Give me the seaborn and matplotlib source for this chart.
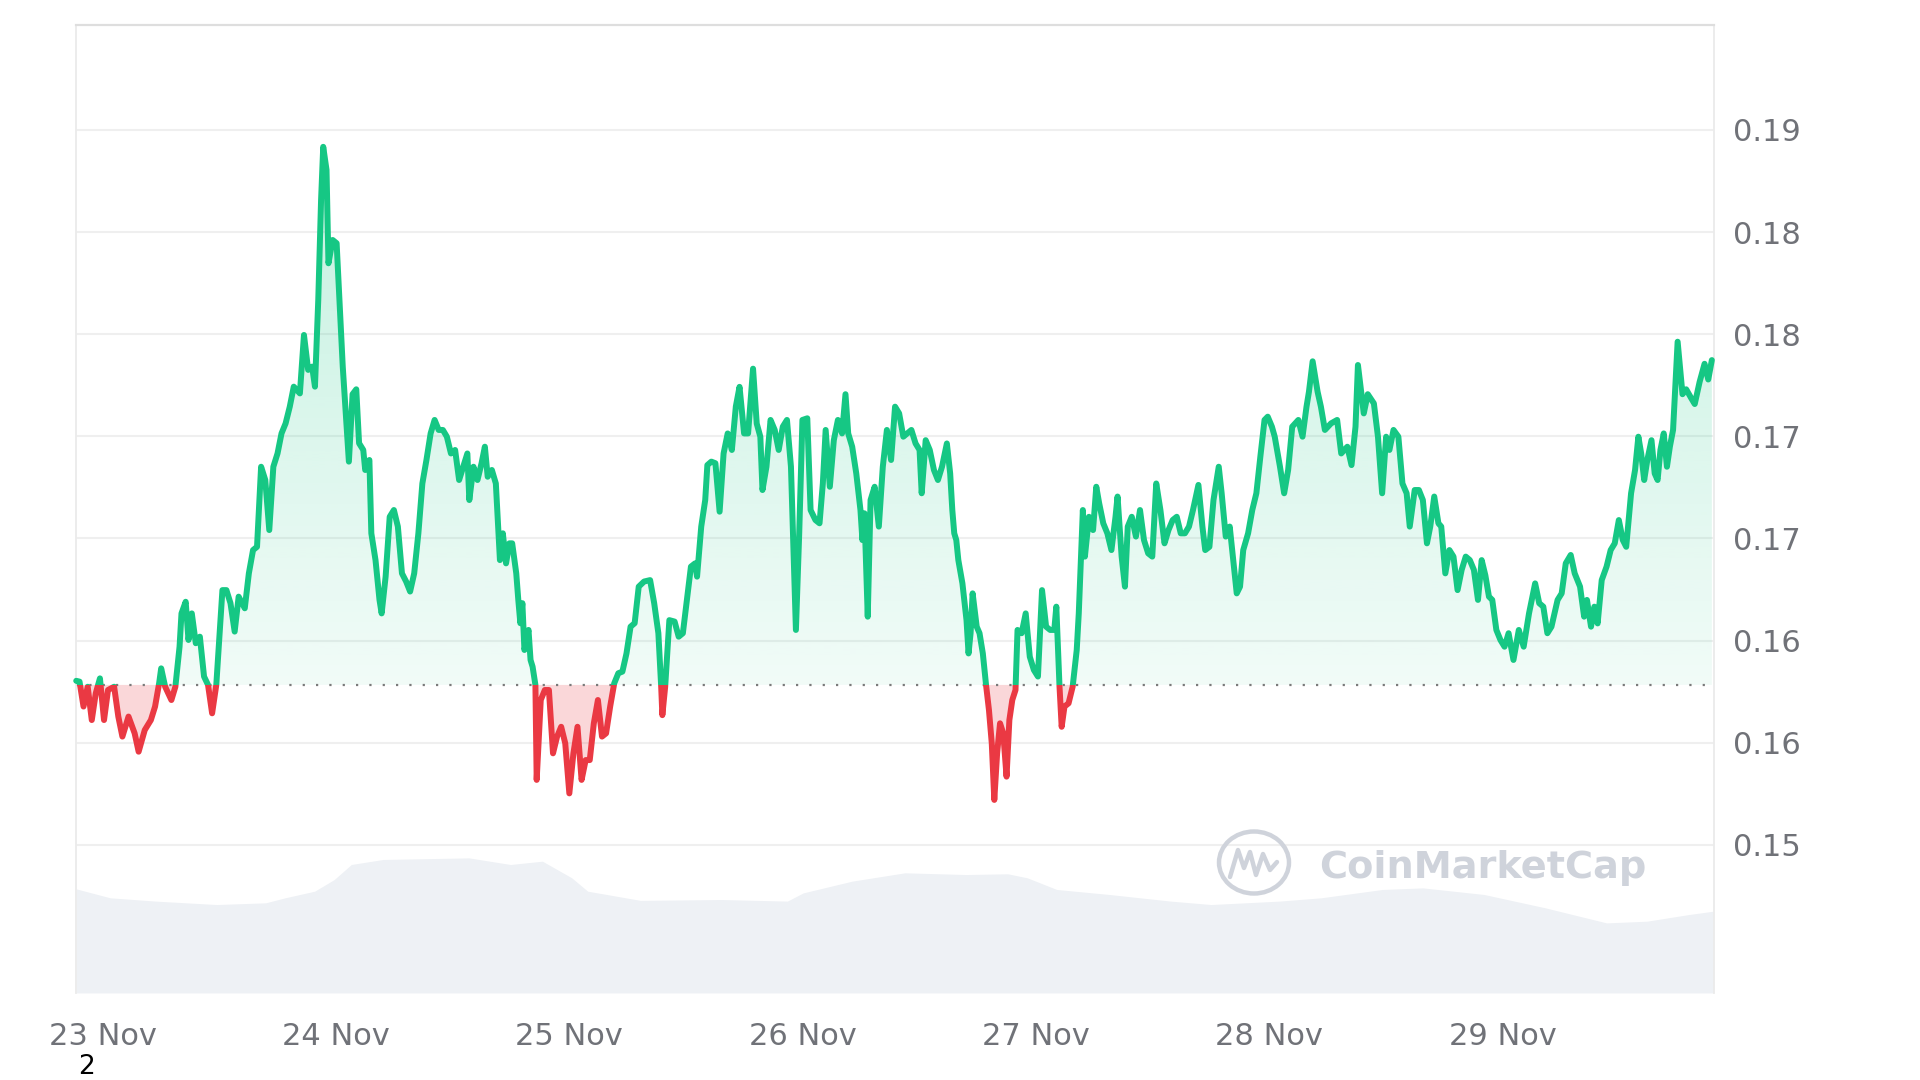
import numpy as np
import pandas as pd
import matplotlib
matplotlib.use("Agg")
import matplotlib.pyplot as plt
import seaborn as sns
from matplotlib.patches import Rectangle, Ellipse
from matplotlib.path import Path
from matplotlib.lines import Line2D

# ---------------- data ----------------
# hours since 23 Nov 00:00
hours = [
    -2.73, -2.39, -1.98, -1.55, -1.13, -0.72, -0.29, 0.13, 0.54, 1.17,
    1.60, 2.02, 2.65, 3.28, 3.69, 4.32, 4.95, 5.38, 5.80, 6.01,
    6.42, 7.06, 7.47, 7.90, 8.10, 8.53, 8.82, 9.16, 9.57, 9.99,
    10.42, 10.83, 11.25, 11.68, 12.31, 12.72, 13.14, 13.57, 13.98, 14.61,
    15.03, 15.46, 15.87, 16.29, 16.72, 17.13, 17.55, 17.98, 18.39, 18.81,
    19.24, 19.65, 20.28, 20.70, 21.13, 21.54, 21.83, 22.17, 22.46, 22.68,
    23.02, 23.22, 23.65, 24.06, 24.35, 24.69, 24.94, 25.32, 25.70, 26.08,
    26.37, 26.80, 27.00, 27.43, 27.63, 28.06, 28.47, 28.69, 29.10, 29.52,
    29.95, 30.36, 30.78, 31.21, 31.62, 32.04, 32.47, 32.88, 33.30, 33.73,
    34.14, 34.56, 34.99, 35.40, 35.82, 36.25, 36.66, 37.08, 37.51, 37.71,
    38.14, 38.55, 38.97, 39.31, 39.60, 40.03, 40.44, 40.86, 41.16, 41.49,
    41.83, 42.12, 42.54, 42.75, 42.96, 43.17, 43.38, 43.80, 44.01, 44.22,
    44.51, 44.64, 45.06, 45.48, 45.90, 46.32, 46.74, 47.16, 47.58, 48.00,
    48.42, 48.84, 49.26, 49.68, 50.10, 50.52, 50.94, 51.36, 51.78, 52.20,
    52.62, 53.04, 53.46, 53.88, 54.30, 54.72, 55.14, 55.69, 56.31, 56.73,
    57.16, 57.45, 57.57, 57.86, 58.29, 58.83, 59.25, 59.68, 60.09, 60.51,
    60.94, 61.14, 61.57, 61.98, 62.20, 62.61, 63.03, 63.46, 63.87, 64.29,
    64.72, 65.13, 65.51, 65.98, 66.39, 66.90, 67.28, 67.65, 67.87, 68.28,
    68.70, 69.13, 69.54, 69.96, 70.39, 70.80, 71.31, 71.65, 71.98, 72.48,
    72.82, 73.32, 73.74, 74.08, 74.37, 74.80, 75.21, 75.63, 76.06, 76.41,
    76.69, 77.10, 77.52, 77.95, 78.15, 78.36, 78.70, 78.99, 79.41, 79.84,
    80.25, 80.67, 81.10, 81.51, 81.93, 82.36, 82.77, 83.19, 83.62, 84.03,
    84.25, 84.66, 85.08, 85.51, 85.92, 86.34, 86.84, 87.18, 87.40, 87.60,
    87.81, 88.02, 88.44, 88.86, 89.07, 89.28, 89.49, 89.91, 90.20, 90.54,
    90.87, 91.17, 91.46, 91.72, 92.01, 92.31, 92.64, 92.98, 93.27, 93.57,
    93.90, 94.11, 94.53, 94.95, 95.37, 95.79, 96.21, 96.63, 97.05, 97.47,
    97.89, 98.10, 98.43, 98.65, 98.94, 99.36, 99.78, 100.20, 100.41, 100.83,
    101.04, 101.46, 101.88, 102.21, 102.51, 102.93, 103.35, 103.77, 104.19, 104.40,
    104.82, 105.16, 105.45, 105.86, 106.29, 106.71, 107.12, 107.55, 107.97, 108.38,
    108.81, 109.23, 109.64, 110.07, 110.49, 110.90, 111.33, 111.75, 112.16, 112.72,
    113.13, 113.42, 113.85, 114.27, 114.81, 115.11, 115.53, 115.94, 116.37, 116.66,
    117.00, 117.33, 117.83, 118.26, 118.68, 119.09, 119.52, 119.85, 120.28, 120.57,
    121.11, 121.54, 121.95, 122.37, 123.00, 123.43, 123.84, 124.09, 124.47, 124.98,
    125.32, 125.73, 126.36, 126.99, 127.41, 128.04, 128.47, 128.88, 129.13, 129.73,
    130.14, 130.77, 131.19, 131.62, 132.03, 132.37, 132.79, 133.29, 133.71, 134.14,
    134.46, 134.97, 135.40, 135.81, 136.23, 136.57, 136.98, 137.41, 137.70, 138.12,
    138.54, 138.96, 139.38, 139.80, 140.22, 140.64, 141.06, 141.48, 141.86, 142.24,
    142.61, 142.95, 143.37, 143.79, 144.21, 144.63, 145.13, 145.68, 146.18, 146.73,
    147.36, 147.78, 148.20, 148.62, 149.04, 149.67, 150.09, 150.51, 151.02, 151.43,
    151.98, 152.40, 152.69, 153.11, 153.45, 153.79, 154.21, 154.71, 155.13, 155.55,
    155.97, 156.38, 156.73, 157.23, 157.64, 157.98, 158.27, 158.58, 158.90, 159.33,
    159.66, 159.96, 160.25, 160.59, 160.92, 161.22, 161.55, 162.02, 162.52, 162.90,
    163.40, 163.78, 164.28, 164.79, 165.17, 165.54,
]

price = [
    0.15803, 0.15799, 0.15677, 0.15774, 0.15611, 0.15742, 0.15815, 0.15611, 0.15758, 0.15774,
    0.15628, 0.15530, 0.15628, 0.15546, 0.15456, 0.15562, 0.15611, 0.15677, 0.15791, 0.15864,
    0.15774, 0.15709, 0.15774, 0.15970, 0.16133, 0.16190, 0.16003, 0.16133, 0.15987, 0.16019,
    0.15824, 0.15783, 0.15644, 0.15783, 0.16247, 0.16247, 0.16183, 0.16044, 0.16215, 0.16158,
    0.16329, 0.16443, 0.16459, 0.16851, 0.16786, 0.16541, 0.16851, 0.16916, 0.17014, 0.17063,
    0.17145, 0.17243, 0.17210, 0.17496, 0.17325, 0.17341, 0.17243, 0.17667, 0.18157, 0.18417,
    0.18304, 0.17847, 0.17961, 0.17945, 0.17667, 0.17341, 0.17158, 0.16876, 0.17206, 0.17230,
    0.16966, 0.16933, 0.16835, 0.16884, 0.16525, 0.16394, 0.16199, 0.16133, 0.16313, 0.16606,
    0.16639, 0.16558, 0.16329, 0.16289, 0.16240, 0.16329, 0.16525, 0.16769, 0.16884, 0.17014,
    0.17080, 0.17031, 0.17031, 0.16998, 0.16916, 0.16933, 0.16786, 0.16851, 0.16916, 0.16688,
    0.16851, 0.16786, 0.16868, 0.16949, 0.16802, 0.16835, 0.16769, 0.16394, 0.16525, 0.16378,
    0.16476, 0.16476, 0.16329, 0.16199, 0.16085, 0.16183, 0.15954, 0.16052, 0.15905, 0.15872,
    0.15783, 0.15318, 0.15709, 0.15758, 0.15758, 0.15448, 0.15530, 0.15578, 0.15497, 0.15252,
    0.15448, 0.15578, 0.15318, 0.15415, 0.15415, 0.15595, 0.15709, 0.15530, 0.15546, 0.15677,
    0.15791, 0.15840, 0.15848, 0.15937, 0.16068, 0.16085, 0.16264, 0.16289, 0.16296, 0.16183,
    0.16036, 0.15774, 0.15635, 0.15774, 0.16100, 0.16093, 0.16019, 0.16036, 0.16199, 0.16362,
    0.16378, 0.16313, 0.16558, 0.16688, 0.16859, 0.16876, 0.16868, 0.16631, 0.16916, 0.17014,
    0.16933, 0.17146, 0.17242, 0.17014, 0.17014, 0.17331, 0.17062, 0.16998, 0.16737, 0.16851,
    0.17080, 0.17031, 0.16933, 0.17047, 0.17080, 0.16851, 0.16052, 0.16525, 0.17080, 0.17088,
    0.16639, 0.16590, 0.16574, 0.16769, 0.17031, 0.16753, 0.16981, 0.17080, 0.17014, 0.17206,
    0.17014, 0.16949, 0.16818, 0.16639, 0.16492, 0.16623, 0.16117, 0.16688, 0.16753, 0.16558,
    0.16851, 0.17031, 0.16884, 0.17145, 0.17112, 0.16998, 0.17014, 0.17031, 0.16965, 0.16933,
    0.16721, 0.16981, 0.16933, 0.16835, 0.16786, 0.16851, 0.16965, 0.16818, 0.16639, 0.16525,
    0.16492, 0.16394, 0.16280, 0.16100, 0.15937, 0.16036, 0.16231, 0.16068, 0.16036, 0.15937,
    0.15783, 0.15660, 0.15497, 0.15220, 0.15448, 0.15595, 0.15546, 0.15334, 0.15611, 0.15709,
    0.15758, 0.16052, 0.16036, 0.16133, 0.15921, 0.15856, 0.15824, 0.16247, 0.16068, 0.16052,
    0.16052, 0.16166, 0.15774, 0.15578, 0.15677, 0.15693, 0.15774, 0.15954, 0.16133, 0.16639,
    0.16411, 0.16606, 0.16541, 0.16753, 0.16672, 0.16574, 0.16525, 0.16443, 0.16606, 0.16705,
    0.16411, 0.16264, 0.16558, 0.16606, 0.16509, 0.16639, 0.16492, 0.16427, 0.16411, 0.16769,
    0.16639, 0.16476, 0.16541, 0.16590, 0.16606, 0.16525, 0.16525, 0.16558, 0.16639, 0.16762,
    0.16558, 0.16443, 0.16459, 0.16688, 0.16851, 0.16721, 0.16509, 0.16558, 0.16362, 0.16231,
    0.16264, 0.16443, 0.16525, 0.16639, 0.16721, 0.16900, 0.17080, 0.17096, 0.17047, 0.16998,
    0.16851, 0.16721, 0.16835, 0.17047, 0.17080, 0.16998, 0.17145, 0.17218, 0.17367, 0.17218,
    0.17145, 0.17031, 0.17063, 0.17080, 0.16916, 0.16949, 0.16859, 0.17047, 0.17349, 0.17112,
    0.17206, 0.17161, 0.16998, 0.16721, 0.16998, 0.16933, 0.17031, 0.16998, 0.16769, 0.16721,
    0.16558, 0.16737, 0.16737, 0.16688, 0.16476, 0.16558, 0.16705, 0.16574, 0.16558, 0.16329,
    0.16443, 0.16411, 0.16247, 0.16346, 0.16411, 0.16394, 0.16346, 0.16199, 0.16394, 0.16319,
    0.16215, 0.16199, 0.16052, 0.16003, 0.15970, 0.16036, 0.15905, 0.16052, 0.15970, 0.16133,
    0.16280, 0.16183, 0.16166, 0.16036, 0.16068, 0.16199, 0.16231, 0.16378, 0.16419, 0.16329,
    0.16264, 0.16117, 0.16199, 0.16068, 0.16166, 0.16084, 0.16296, 0.16362, 0.16443, 0.16476,
    0.16590, 0.16492, 0.16459, 0.16721, 0.16835, 0.16998, 0.16916, 0.16786, 0.16884, 0.16981,
    0.16818, 0.16786, 0.16933, 0.17014, 0.16851, 0.16949, 0.17031, 0.17463, 0.17206, 0.17230,
    0.17188, 0.17158, 0.17266, 0.17355, 0.17278, 0.17373,
]

baseline_price = 0.15783

vol_hours = [-2.73, 0.76, 5.42, 11.72, 16.76, 18.77, 21.80, 23.81, 25.57, 28.85,
             37.67, 41.95, 45.23, 48.25, 49.89, 55.31, 63.62, 70.43, 72.06, 77.10,
             82.52, 88.82, 93.10, 95.12, 98.14, 103.56, 109.86, 114.02, 121.07, 125.35,
             131.65, 135.81, 142.11, 148.41, 154.71, 158.87, 163.15, 165.72]
volume = [85, 77.7, 75, 72.2, 73.6, 77.7, 83.1, 92.6, 104.9, 109,
          110.3, 104.9, 107.6, 94, 83.1, 75.6, 76.3, 75, 81.7, 91.3,
          98.1, 96.7, 97.3, 94, 84.5, 80.4, 75, 72.2, 75, 77.7,
          84.5, 85.8, 80.4, 69.5, 57.2, 58.6, 64, 66.8]

y_ticks = [0.185, 0.18, 0.175, 0.17, 0.165, 0.16, 0.155, 0.15]
y_tick_labels = ["0.19", "0.18", "0.18", "0.17", "0.17", "0.16", "0.16", "0.15"]
day_ticks = [0, 24, 48, 72, 96, 120, 144]
day_labels = ["23 Nov", "24 Nov", "25 Nov", "26 Nov", "27 Nov", "28 Nov", "29 Nov"]

# ---------------- styling ----------------
GREEN = "#16c784"
RED = "#ea3943"
LABEL = "#707278"

sns.set_theme(style="white")
plt.rcParams["font.family"] = ["DejaVu Sans"]

n = min(len(hours), len(price))
df = pd.DataFrame({"hours": hours[:n], "price": price[:n]})
vdf = pd.DataFrame({"hours": vol_hours, "volume": volume})

X0, X1 = -2.73, 165.72
Y0, Y1 = 0.14275, 0.19011

fig = plt.figure(figsize=(19.2, 10.8), dpi=100, facecolor="white")
ax = fig.add_axes([0.0397, 0.0806, 0.8528, 0.8958])
ax2 = ax.twinx()

# volume area (behind)
ax2.fill_between(vdf["hours"], 0, vdf["volume"], color="#eef1f5", lw=0)
ax2.set_ylim(0, 790)
ax2.set_yticks([])
for s in ax2.spines.values():
    s.set_visible(False)
ax2.set_zorder(1)
ax.set_zorder(2)
ax.patch.set_visible(False)

x = df["hours"].to_numpy()
y = df["price"].to_numpy()

# green gradient fill above baseline
gfill = ax.fill_between(x, y, baseline_price, where=y >= baseline_price,
                        interpolate=True, facecolor="none", edgecolor="none")
gpath = Path.make_compound_path(*gfill.get_paths())
grad = np.zeros((256, 1, 4))
grad[..., :3] = matplotlib.colors.to_rgb(GREEN)
grad[:, 0, 3] = np.linspace(0.06, 0.30, 256)
im = ax.imshow(grad, extent=[X0, X1, baseline_price, Y1], origin="lower",
               aspect="auto", interpolation="bilinear", zorder=1.2)
im.set_clip_path(gpath, transform=ax.transData)

# red fill below baseline
ax.fill_between(x, y, baseline_price, where=y < baseline_price,
                interpolate=True, color=RED, alpha=0.2, lw=0, zorder=1.2)

# baseline dotted
ax.axhline(baseline_price, color="#7a7a7a", lw=1.6, ls=(0, (1, 5)), zorder=1.5)

# price line: green above baseline, red below
LW = 4.3
sns.lineplot(data=df, x="hours", y="price", ax=ax, color=GREEN, lw=LW,
             estimator=None, zorder=3)
gl = ax.lines[-1]
gl.set_solid_joinstyle("round")
gl.set_solid_capstyle("round")
gl.set_clip_path(Rectangle((X0 - 10, baseline_price), 200, 1.0, transform=ax.transData))

sns.lineplot(data=df, x="hours", y="price", ax=ax, color=RED, lw=LW,
             estimator=None, zorder=3)
rl = ax.lines[-1]
rl.set_solid_joinstyle("round")
rl.set_solid_capstyle("round")
rl.set_clip_path(Rectangle((X0 - 10, 0.0), 200, baseline_price, transform=ax.transData))

ax.set_xlim(X0, X1)
ax.set_ylim(Y0, Y1)
ax2.set_xlim(X0, X1)
ax.set_xlabel("")
ax.set_ylabel("")

# axes styling
ax.yaxis.tick_right()
ax.set_yticks(y_ticks)
ax.set_yticklabels(y_tick_labels)
ax.set_xticks(day_ticks)
ax.set_xticklabels(day_labels)
ax.tick_params(axis="y", length=0, pad=14, labelsize=22, labelcolor=LABEL)
ax.tick_params(axis="x", length=0, pad=21, labelsize=22, labelcolor=LABEL)
ax.set_axisbelow(True)
ax.yaxis.grid(True, color="#efefef", lw=1.5)
ax.xaxis.grid(False)
ax.spines["bottom"].set_visible(False)
ax.spines["top"].set_color("#dedede")
ax.spines["top"].set_linewidth(1.6)
for side in ("left", "right"):
    ax.spines[side].set_color("#ebebeb")
    ax.spines[side].set_linewidth(1.3)

# watermark
WM = "#cfd3db"
fig.text(1318.8 / 1920, 1 - 878 / 1080, "CoinMarketCap", fontsize=27.5,
         fontweight="bold", color=WM, ha="left", va="baseline", zorder=5)
fig.add_artist(Ellipse((12.54, 2.175), 0.70, 0.62, fill=False, ec=WM, lw=3.2,
                       transform=fig.dpi_scale_trans, zorder=5))
fig.add_artist(Line2D([12.30, 12.38, 12.44, 12.50, 12.56, 12.63, 12.70, 12.77],
                      [2.03, 2.30, 2.12, 2.28, 2.05, 2.26, 2.10, 2.18],
                      transform=fig.dpi_scale_trans, color=WM, lw=3.2,
                      solid_joinstyle="round", solid_capstyle="round", zorder=5))

# stray label at bottom-left
fig.text(86.5 / 1920, 1 - 1067 / 1080, "2", fontsize=19, color="black",
         ha="center", va="center")

fig.savefig("out.png", dpi=100, facecolor="white")
